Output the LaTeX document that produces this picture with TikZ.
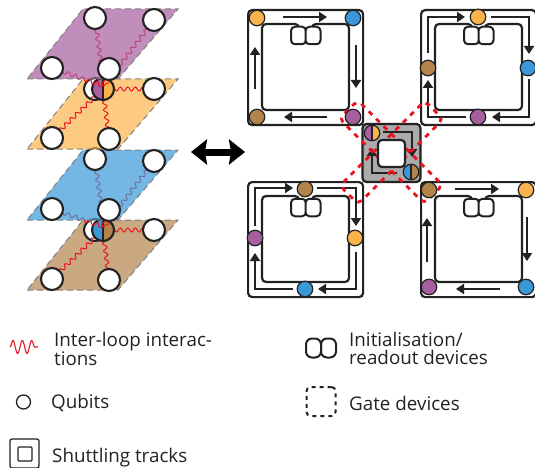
\documentclass[tikz,border=0pt]{standalone}
\usepackage{fontspec}
\setmainfont{Open Sans}
\usetikzlibrary{arrows.meta,decorations.pathmorphing}
\definecolor{qpurple}{HTML}{A65E9F}
\definecolor{qorange}{HTML}{FBB34C}
\definecolor{qblue}{HTML}{3A98D8}
\definecolor{qbrown}{HTML}{B3834C}
\definecolor{ink}{HTML}{222222}
\definecolor{gatered}{HTML}{E8141E}

\begin{document}
\begin{tikzpicture}[
      x=1pt, y=-1pt,
      >={Triangle[length=8pt,width=10pt]},
      qubit/.style = {circle, draw=ink, line width=1.2pt, inner sep=0pt, minimum size=15.5pt},
      ring/.style = {circle, draw=ink, fill=white, line width=2.1pt, inner sep=0pt, minimum size=22pt},
      splitq/.style 2 args = {circle, draw=ink, inner sep=0pt, path picture={
          \fill[#1] (path picture bounding box.north west) rectangle (path picture bounding box.south);
          \fill[#2] (path picture bounding box.north) rectangle (path picture bounding box.south east);
          \draw[ink, line width=1.4pt] (path picture bounding box.north) -- (path picture bounding box.south);
        }},
      sheet/.style = {draw=gray, dashed, dash pattern=on 6pt off 4pt, line width=1pt, fill opacity=0.7},
      wave/.style = {draw=gatered, line width=1pt, decorate, decoration={snake, amplitude=2pt, segment length=7.5pt}},
      rail/.style = {draw=ink, line width=2.2pt, rounded corners=4pt},
      track/.style = {draw=ink, line width=2pt, ->},
      device/.style = {draw=ink, fill=white, line width=2pt, rounded corners=4pt, inner sep=0pt, minimum width=15pt, minimum height=17.5pt},
      gate/.style = {draw=gatered, dashed, dash pattern=on 5pt off 5.5pt, line width=2.8pt, rounded corners=5pt, inner sep=0pt, minimum width=120pt, minimum height=26pt},
      label/.style = {anchor=west, align=left, inner sep=0pt, text=ink, font=\fontsize{18.8}{18}\selectfont}
    ]
    \useasboundingbox (0,0) rectangle (535,468);

    % stacked sheets, lower pair first
    \foreach \s/\up/\low in {141/qblue/qbrown, 0/qpurple/qorange}{
      \begin{scope}[shift={(0,\s)}]
        \coordinate (ua) at (95,18);
        \coordinate (ub) at (154,20);
        \coordinate (uc) at (52,68);
        \coordinate (ud) at (109,69);
        \coordinate (lb) at (154,89);
        \coordinate (lc) at (52,138);
        \coordinate (ld) at (109,139);
        \coordinate (hub) at (103,89);
        \coordinate (hubtop) at (104,86);

        \draw[sheet, fill=\low] (27,149) -- (118,149) -- (178,79) -- (83,79) -- cycle;
        \node[ring] (ghost\s) at (95,89) {};
        \foreach \q in {lb,lc,ld}{
          \draw[wave] (hub) -- (\q);
        }
        \node[splitq={\up}{\low}, line width=2.1pt, minimum size=22pt] (split\s) at (hub) {};
        \foreach \q in {lb,lc,ld}{
          \node[ring] (\q\s) at (\q) {};
        }
        \foreach \q in {ua,ub,uc}{
          \draw[wave] (\q) -- (hubtop);
        }
        \draw[sheet, fill=\up] (27,79) -- (118,79) -- (178,9) -- (83,9) -- cycle;
        \foreach \q in {ua,ub,uc,ud}{
          \node[ring] (\q\s) at (\q) {};
        }
      \end{scope}
    }

    \coordinate (swapl) at (191,152);
    \coordinate (swapr) at (245,152);
    \draw[{Stealth[length=16pt,width=25pt,inset=2pt]}-{Stealth[length=16pt,width=25pt,inset=2pt]}, line width=7pt] (swapl) -- (swapr);

    % the four loops
    \foreach \cx/\cy/\c in {247/9/a, 420/9/b, 247/181/c, 420/181/d}{
      \begin{scope}[shift={(\cx,\cy)}]
        \node[rail, fill=white, minimum size=115pt, inner sep=0pt, anchor=north west] (outer\c) at (0,0) {};
        \draw[rail] (52,18) -- (52,15) -- (15,15) -- (15,101) -- (102,101) -- (102,15) -- (65,15) -- (65,18);
        \node[device] (devl\c) at (51.5,26.5) {};
        \node[device] (devr\c) at (66,26.5) {};
      \end{scope}
    }

    % tracks
    \draw[track] (283,17) -- (327,17);
    \draw[track] (356,45) -- (356,88);
    \draw[track] (327,117) -- (284,117);
    \draw[track] (255,89) -- (255,47);

    \draw[track] (428,53) -- (428,17) -- (465,17);
    \draw[track] (491,17) -- (529,17) -- (529,54);
    \draw[track] (529,79) -- (529,117) -- (492,117);
    \draw[track] (466,117) -- (428,117) -- (428,80);

    \draw[track] (255,226) -- (255,188) -- (293,188);
    \draw[track] (317,188) -- (356,188) -- (356,226);
    \draw[track] (356,252) -- (356,289) -- (318,289);
    \draw[track] (293,289) -- (255,289) -- (255,253);

    \draw[track] (455,189) -- (499,189);
    \draw[track] (527,217) -- (527,261);
    \draw[track] (500,289) -- (456,289);
    \draw[track] (427,262) -- (427,218);

    % central gate
    \node[rail, fill=black!33, minimum size=58pt, inner sep=0pt] (centre) at (391.5,153) {};
    \draw[track] (383,132) -- (412,132) -- (412,157);
    \draw[track] (397,173) -- (372,173) -- (372,148);

    \node[gate, rotate=-45] (gatea) at (391,152) {};
    \node[gate, rotate=45] (gateb) at (391.5,152.5) {};
    \node[rail, fill=white, minimum size=27pt, inner sep=0pt] (hole) at (391.5,153.5) {};

    \foreach \name/\qx/\qy/\col in {
      qaa/257/18/qorange, qab/353/18/qblue, qac/257/117/qbrown, qad/353/117/qpurple,
      qba/478/17/qorange, qbb/528/68/qblue, qbc/428/68/qbrown, qbd/478/117/qpurple,
      qca/305/189/qbrown, qcb/355/238/qorange, qcc/255/238/qpurple, qcd/305/289/qblue,
      qda/429/190/qbrown, qdb/526/190/qorange, qdc/429/287/qpurple, qdd/526/287/qblue}{
      \node[qubit, fill=\col] (\name) at (\qx,\qy) {};
    }
    \node[splitq={qpurple}{qorange}, line width=1.2pt, minimum size=15.5pt] (splita) at (372,133) {};
    \node[splitq={qblue}{qbrown}, line width=1.2pt, minimum size=15.5pt] (splitb) at (411,172) {};

    % legend
    \coordinate (wavl) at (10,347);
    \coordinate (wavr) at (38,347);
    \draw[draw=gatered, line width=1.1pt, decorate, decoration={snake, amplitude=6.5pt, segment length=9.4pt}] (wavl) -- (wavr);
    \node[label] (txtwave) at (54,349) {Inter-loop interac-\\tions};

    \node[circle, draw=ink, line width=1.3pt, inner sep=0pt, minimum size=14pt] (keyqubit) at (23.5,402) {};
    \node[label] (txtqubit) at (51,403) {Qubits};

    \node[draw=ink, line width=1.2pt, rounded corners=2pt, inner sep=0pt, minimum size=29pt] (keyouter) at (24.5,453.5) {};
    \node[draw=ink, line width=1.2pt, rounded corners=1pt, inner sep=0pt, minimum size=14pt] (keyinner) at (25,454) {};
    \node[label] (txttrack) at (52,457.5) {Shuttling tracks};

    \node[draw=ink, line width=2pt, rounded corners=6pt, inner sep=0pt, minimum width=15pt, minimum height=19pt] (keydevl) at (313.5,348) {};
    \node[draw=ink, line width=2pt, rounded corners=6pt, inner sep=0pt, minimum width=15pt, minimum height=19pt] (keydevr) at (328.5,348) {};
    \node[label] (txtdevice) at (349,348) {Initialisation/\\readout devices};

    \node[draw=ink, dashed, dash pattern=on 4pt off 4pt, line width=2pt, rounded corners=4pt, inner sep=0pt, minimum size=29pt] (keygate) at (321,401.5) {};
    \node[label] (txtgate) at (349,403) {Gate devices};
  \end{tikzpicture}
\end{document}
